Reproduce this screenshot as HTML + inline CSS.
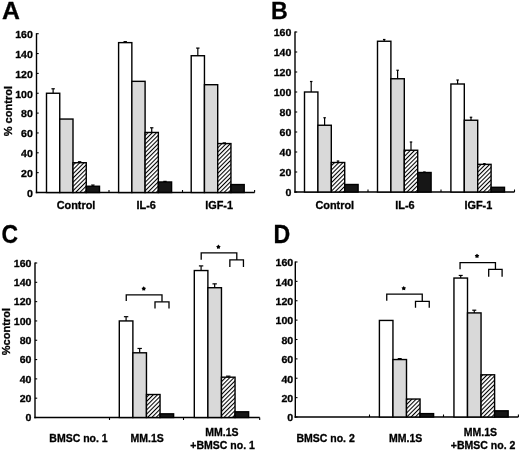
<!DOCTYPE html>
<html><head><meta charset="utf-8"><style>
html,body{margin:0;padding:0;background:#fff;}
body{width:520px;height:451px;overflow:hidden;font-family:"Liberation Sans", sans-serif;}
svg{display:block;filter:grayscale(1);}
text{stroke:#000;stroke-width:0.3px;paint-order:stroke;}
</style></head><body>
<svg width="520" height="451" viewBox="0 0 520 451">
<defs>
<pattern id="hatch" patternUnits="userSpaceOnUse" width="3" height="3" patternTransform="rotate(45)">
<rect width="3" height="3" fill="#fff"/>
<rect x="0" y="0" width="1.05" height="3" fill="#000"/>
</pattern>
</defs>
<rect width="520" height="451" fill="#fff"/>
<text x="0" y="0" transform="translate(2,19.3) scale(1,1)" font-size="24.8" font-weight="bold" font-family='"Liberation Sans", sans-serif'>A</text>
<line x1="36.5" y1="33.2" x2="36.5" y2="193.2" stroke="#000" stroke-width="1.4"/>
<line x1="36.5" y1="192.5" x2="38.7" y2="192.5" stroke="#000" stroke-width="1.1"/>
<text x="0" y="0" transform="translate(32.9,196.8) scale(1.04,1)" text-rendering="geometricPrecision" font-size="10.2" font-weight="bold" text-anchor="end" font-family='"Liberation Sans", sans-serif'>0</text>
<line x1="36.5" y1="172.65" x2="38.7" y2="172.65" stroke="#000" stroke-width="1.1"/>
<text x="0" y="0" transform="translate(32.9,176.95) scale(1.04,1)" text-rendering="geometricPrecision" font-size="10.2" font-weight="bold" text-anchor="end" font-family='"Liberation Sans", sans-serif'>20</text>
<line x1="36.5" y1="152.8" x2="38.7" y2="152.8" stroke="#000" stroke-width="1.1"/>
<text x="0" y="0" transform="translate(32.9,157.1) scale(1.04,1)" text-rendering="geometricPrecision" font-size="10.2" font-weight="bold" text-anchor="end" font-family='"Liberation Sans", sans-serif'>40</text>
<line x1="36.5" y1="132.95" x2="38.7" y2="132.95" stroke="#000" stroke-width="1.1"/>
<text x="0" y="0" transform="translate(32.9,137.25) scale(1.04,1)" text-rendering="geometricPrecision" font-size="10.2" font-weight="bold" text-anchor="end" font-family='"Liberation Sans", sans-serif'>60</text>
<line x1="36.5" y1="113.1" x2="38.7" y2="113.1" stroke="#000" stroke-width="1.1"/>
<text x="0" y="0" transform="translate(32.9,117.4) scale(1.04,1)" text-rendering="geometricPrecision" font-size="10.2" font-weight="bold" text-anchor="end" font-family='"Liberation Sans", sans-serif'>80</text>
<line x1="36.5" y1="93.25" x2="38.7" y2="93.25" stroke="#000" stroke-width="1.1"/>
<text x="0" y="0" transform="translate(32.9,97.55) scale(1.04,1)" text-rendering="geometricPrecision" font-size="10.2" font-weight="bold" text-anchor="end" font-family='"Liberation Sans", sans-serif'>100</text>
<line x1="36.5" y1="73.4" x2="38.7" y2="73.4" stroke="#000" stroke-width="1.1"/>
<text x="0" y="0" transform="translate(32.9,77.7) scale(1.04,1)" text-rendering="geometricPrecision" font-size="10.2" font-weight="bold" text-anchor="end" font-family='"Liberation Sans", sans-serif'>120</text>
<line x1="36.5" y1="53.55" x2="38.7" y2="53.55" stroke="#000" stroke-width="1.1"/>
<text x="0" y="0" transform="translate(32.9,57.85) scale(1.04,1)" text-rendering="geometricPrecision" font-size="10.2" font-weight="bold" text-anchor="end" font-family='"Liberation Sans", sans-serif'>140</text>
<line x1="36.5" y1="33.7" x2="38.7" y2="33.7" stroke="#000" stroke-width="1.1"/>
<text x="0" y="0" transform="translate(32.9,38) scale(1.04,1)" text-rendering="geometricPrecision" font-size="10.2" font-weight="bold" text-anchor="end" font-family='"Liberation Sans", sans-serif'>160</text>
<line x1="35.8" y1="192.5" x2="254.6" y2="192.5" stroke="#000" stroke-width="1.4"/>
<line x1="109" y1="192.5" x2="109" y2="190" stroke="#000" stroke-width="1.1"/>
<line x1="182.5" y1="192.5" x2="182.5" y2="190" stroke="#000" stroke-width="1.1"/>
<line x1="254.6" y1="192.5" x2="254.6" y2="190" stroke="#000" stroke-width="1.1"/>
<line x1="53.12" y1="93.25" x2="53.12" y2="88.78" stroke="#000" stroke-width="1.2"/>
<line x1="51.42" y1="88.78" x2="54.83" y2="88.78" stroke="#000" stroke-width="1.2"/>
<rect x="46.5" y="93.25" width="13.25" height="99.25" fill="#fff" stroke="#000" stroke-width="1.4"/>
<rect x="59.75" y="119.05" width="13.25" height="73.45" fill="#d9d9d9" stroke="#000" stroke-width="1.4"/>
<line x1="79.62" y1="162.72" x2="79.62" y2="161.73" stroke="#000" stroke-width="1.2"/>
<line x1="77.92" y1="161.73" x2="81.33" y2="161.73" stroke="#000" stroke-width="1.2"/>
<rect x="73" y="162.72" width="13.25" height="29.78" fill="url(#hatch)" stroke="#000" stroke-width="1.4"/>
<line x1="92.88" y1="186.25" x2="92.88" y2="185.06" stroke="#000" stroke-width="1.2"/>
<line x1="91.17" y1="185.06" x2="94.58" y2="185.06" stroke="#000" stroke-width="1.2"/>
<rect x="86.25" y="186.25" width="13.25" height="6.25" fill="#161616" stroke="#000" stroke-width="1.4"/>
<line x1="125.22" y1="42.63" x2="125.22" y2="41.64" stroke="#000" stroke-width="1.2"/>
<line x1="123.52" y1="41.64" x2="126.92" y2="41.64" stroke="#000" stroke-width="1.2"/>
<rect x="118.6" y="42.63" width="13.25" height="149.87" fill="#fff" stroke="#000" stroke-width="1.4"/>
<rect x="131.85" y="81.34" width="13.25" height="111.16" fill="#d9d9d9" stroke="#000" stroke-width="1.4"/>
<line x1="151.72" y1="132.45" x2="151.72" y2="127.79" stroke="#000" stroke-width="1.2"/>
<line x1="150.03" y1="127.79" x2="153.42" y2="127.79" stroke="#000" stroke-width="1.2"/>
<rect x="145.1" y="132.45" width="13.25" height="60.05" fill="url(#hatch)" stroke="#000" stroke-width="1.4"/>
<line x1="164.97" y1="181.98" x2="164.97" y2="181.38" stroke="#000" stroke-width="1.2"/>
<line x1="163.28" y1="181.38" x2="166.67" y2="181.38" stroke="#000" stroke-width="1.2"/>
<rect x="158.35" y="181.98" width="13.25" height="10.52" fill="#161616" stroke="#000" stroke-width="1.4"/>
<line x1="197.82" y1="55.73" x2="197.82" y2="48.09" stroke="#000" stroke-width="1.2"/>
<line x1="196.12" y1="48.09" x2="199.52" y2="48.09" stroke="#000" stroke-width="1.2"/>
<rect x="191.2" y="55.73" width="13.25" height="136.77" fill="#fff" stroke="#000" stroke-width="1.4"/>
<rect x="204.45" y="84.71" width="13.25" height="107.79" fill="#d9d9d9" stroke="#000" stroke-width="1.4"/>
<line x1="224.32" y1="143.57" x2="224.32" y2="142.88" stroke="#000" stroke-width="1.2"/>
<line x1="222.62" y1="142.88" x2="226.02" y2="142.88" stroke="#000" stroke-width="1.2"/>
<rect x="217.7" y="143.57" width="13.25" height="48.93" fill="url(#hatch)" stroke="#000" stroke-width="1.4"/>
<rect x="230.95" y="184.56" width="13.25" height="7.94" fill="#161616" stroke="#000" stroke-width="1.4"/>
<text x="76" y="208.9" font-size="10.9" font-weight="bold" text-anchor="middle" font-family='"Liberation Sans", sans-serif'>Control</text>
<text x="146.25" y="208.9" font-size="10.9" font-weight="bold" text-anchor="middle" font-family='"Liberation Sans", sans-serif'>IL-6</text>
<text x="219.1" y="208.9" font-size="10.9" font-weight="bold" text-anchor="middle" font-family='"Liberation Sans", sans-serif'>IGF-1</text>
<text x="0" y="0" transform="translate(12.4,111.15) rotate(-90)" font-size="11.05" font-weight="bold" text-anchor="middle" font-family='"Liberation Sans", sans-serif'>% control</text>
<text x="0" y="0" transform="translate(270.9,18.9) scale(0.94,1)" font-size="24.7" font-weight="bold" font-family='"Liberation Sans", sans-serif'>B</text>
<line x1="295" y1="31.5" x2="295" y2="192.7" stroke="#000" stroke-width="1.4"/>
<line x1="295" y1="192" x2="297.2" y2="192" stroke="#000" stroke-width="1.1"/>
<text x="0" y="0" transform="translate(291.4,195.9) scale(1.04,1)" text-rendering="geometricPrecision" font-size="10.2" font-weight="bold" text-anchor="end" font-family='"Liberation Sans", sans-serif'>0</text>
<line x1="295" y1="172" x2="297.2" y2="172" stroke="#000" stroke-width="1.1"/>
<text x="0" y="0" transform="translate(291.4,175.9) scale(1.04,1)" text-rendering="geometricPrecision" font-size="10.2" font-weight="bold" text-anchor="end" font-family='"Liberation Sans", sans-serif'>20</text>
<line x1="295" y1="152" x2="297.2" y2="152" stroke="#000" stroke-width="1.1"/>
<text x="0" y="0" transform="translate(291.4,155.9) scale(1.04,1)" text-rendering="geometricPrecision" font-size="10.2" font-weight="bold" text-anchor="end" font-family='"Liberation Sans", sans-serif'>40</text>
<line x1="295" y1="132" x2="297.2" y2="132" stroke="#000" stroke-width="1.1"/>
<text x="0" y="0" transform="translate(291.4,135.9) scale(1.04,1)" text-rendering="geometricPrecision" font-size="10.2" font-weight="bold" text-anchor="end" font-family='"Liberation Sans", sans-serif'>60</text>
<line x1="295" y1="112" x2="297.2" y2="112" stroke="#000" stroke-width="1.1"/>
<text x="0" y="0" transform="translate(291.4,115.9) scale(1.04,1)" text-rendering="geometricPrecision" font-size="10.2" font-weight="bold" text-anchor="end" font-family='"Liberation Sans", sans-serif'>80</text>
<line x1="295" y1="92" x2="297.2" y2="92" stroke="#000" stroke-width="1.1"/>
<text x="0" y="0" transform="translate(291.4,95.9) scale(1.04,1)" text-rendering="geometricPrecision" font-size="10.2" font-weight="bold" text-anchor="end" font-family='"Liberation Sans", sans-serif'>100</text>
<line x1="295" y1="72" x2="297.2" y2="72" stroke="#000" stroke-width="1.1"/>
<text x="0" y="0" transform="translate(291.4,75.9) scale(1.04,1)" text-rendering="geometricPrecision" font-size="10.2" font-weight="bold" text-anchor="end" font-family='"Liberation Sans", sans-serif'>120</text>
<line x1="295" y1="52" x2="297.2" y2="52" stroke="#000" stroke-width="1.1"/>
<text x="0" y="0" transform="translate(291.4,55.9) scale(1.04,1)" text-rendering="geometricPrecision" font-size="10.2" font-weight="bold" text-anchor="end" font-family='"Liberation Sans", sans-serif'>140</text>
<line x1="295" y1="32" x2="297.2" y2="32" stroke="#000" stroke-width="1.1"/>
<text x="0" y="0" transform="translate(291.4,35.9) scale(1.04,1)" text-rendering="geometricPrecision" font-size="10.2" font-weight="bold" text-anchor="end" font-family='"Liberation Sans", sans-serif'>160</text>
<line x1="294.3" y1="192" x2="514.5" y2="192" stroke="#000" stroke-width="1.4"/>
<line x1="368" y1="192" x2="368" y2="189.5" stroke="#000" stroke-width="1.1"/>
<line x1="441" y1="192" x2="441" y2="189.5" stroke="#000" stroke-width="1.1"/>
<line x1="514.5" y1="192" x2="514.5" y2="189.5" stroke="#000" stroke-width="1.1"/>
<line x1="311.2" y1="92" x2="311.2" y2="81.5" stroke="#000" stroke-width="1.2"/>
<line x1="309.95" y1="81.5" x2="312.45" y2="81.5" stroke="#000" stroke-width="1.2"/>
<rect x="304.5" y="92" width="13.4" height="100" fill="#fff" stroke="#000" stroke-width="1.4"/>
<line x1="324.6" y1="125.25" x2="324.6" y2="117.75" stroke="#000" stroke-width="1.2"/>
<line x1="323.35" y1="117.75" x2="325.85" y2="117.75" stroke="#000" stroke-width="1.2"/>
<rect x="317.9" y="125.25" width="13.4" height="66.75" fill="#d9d9d9" stroke="#000" stroke-width="1.4"/>
<line x1="338" y1="162.5" x2="338" y2="161" stroke="#000" stroke-width="1.2"/>
<line x1="336.75" y1="161" x2="339.25" y2="161" stroke="#000" stroke-width="1.2"/>
<rect x="331.3" y="162.5" width="13.4" height="29.5" fill="url(#hatch)" stroke="#000" stroke-width="1.4"/>
<rect x="344.7" y="184.5" width="13.4" height="7.5" fill="#161616" stroke="#000" stroke-width="1.4"/>
<line x1="384.2" y1="41.25" x2="384.2" y2="39.5" stroke="#000" stroke-width="1.2"/>
<line x1="382.95" y1="39.5" x2="385.45" y2="39.5" stroke="#000" stroke-width="1.2"/>
<rect x="377.5" y="41.25" width="13.4" height="150.75" fill="#fff" stroke="#000" stroke-width="1.4"/>
<line x1="397.6" y1="78.75" x2="397.6" y2="70.25" stroke="#000" stroke-width="1.2"/>
<line x1="396.35" y1="70.25" x2="398.85" y2="70.25" stroke="#000" stroke-width="1.2"/>
<rect x="390.9" y="78.75" width="13.4" height="113.25" fill="#d9d9d9" stroke="#000" stroke-width="1.4"/>
<line x1="411" y1="150.25" x2="411" y2="142" stroke="#000" stroke-width="1.2"/>
<line x1="409.75" y1="142" x2="412.25" y2="142" stroke="#000" stroke-width="1.2"/>
<rect x="404.3" y="150.25" width="13.4" height="41.75" fill="url(#hatch)" stroke="#000" stroke-width="1.4"/>
<line x1="424.4" y1="172.5" x2="424.4" y2="172" stroke="#000" stroke-width="1.2"/>
<line x1="423.15" y1="172" x2="425.65" y2="172" stroke="#000" stroke-width="1.2"/>
<rect x="417.7" y="172.5" width="13.4" height="19.5" fill="#161616" stroke="#000" stroke-width="1.4"/>
<line x1="457.6" y1="84" x2="457.6" y2="80" stroke="#000" stroke-width="1.2"/>
<line x1="456.35" y1="80" x2="458.85" y2="80" stroke="#000" stroke-width="1.2"/>
<rect x="450.9" y="84" width="13.4" height="108" fill="#fff" stroke="#000" stroke-width="1.4"/>
<line x1="471" y1="120.25" x2="471" y2="117.25" stroke="#000" stroke-width="1.2"/>
<line x1="469.75" y1="117.25" x2="472.25" y2="117.25" stroke="#000" stroke-width="1.2"/>
<rect x="464.3" y="120.25" width="13.4" height="71.75" fill="#d9d9d9" stroke="#000" stroke-width="1.4"/>
<line x1="484.4" y1="164.35" x2="484.4" y2="163.6" stroke="#000" stroke-width="1.2"/>
<line x1="483.15" y1="163.6" x2="485.65" y2="163.6" stroke="#000" stroke-width="1.2"/>
<rect x="477.7" y="164.35" width="13.4" height="27.65" fill="url(#hatch)" stroke="#000" stroke-width="1.4"/>
<rect x="491.1" y="187.3" width="13.4" height="4.7" fill="#161616" stroke="#000" stroke-width="1.4"/>
<text x="334.75" y="208.9" font-size="10.9" font-weight="bold" text-anchor="middle" font-family='"Liberation Sans", sans-serif'>Control</text>
<text x="405" y="208.9" font-size="10.9" font-weight="bold" text-anchor="middle" font-family='"Liberation Sans", sans-serif'>IL-6</text>
<text x="478.4" y="208.9" font-size="10.9" font-weight="bold" text-anchor="middle" font-family='"Liberation Sans", sans-serif'>IGF-1</text>
<text x="0" y="0" transform="translate(1.6,242.5) scale(0.91,1)" font-size="25.2" font-weight="bold" font-family='"Liberation Sans", sans-serif'>C</text>
<line x1="35" y1="262.5" x2="35" y2="418.2" stroke="#000" stroke-width="1.4"/>
<line x1="35" y1="417.5" x2="37.2" y2="417.5" stroke="#000" stroke-width="1.1"/>
<text x="0" y="0" transform="translate(31.5,421.3) scale(1.04,1)" text-rendering="geometricPrecision" font-size="10.2" font-weight="bold" text-anchor="end" font-family='"Liberation Sans", sans-serif'>0</text>
<line x1="35" y1="398.19" x2="37.2" y2="398.19" stroke="#000" stroke-width="1.1"/>
<text x="0" y="0" transform="translate(31.5,401.99) scale(1.04,1)" text-rendering="geometricPrecision" font-size="10.2" font-weight="bold" text-anchor="end" font-family='"Liberation Sans", sans-serif'>20</text>
<line x1="35" y1="378.88" x2="37.2" y2="378.88" stroke="#000" stroke-width="1.1"/>
<text x="0" y="0" transform="translate(31.5,382.68) scale(1.04,1)" text-rendering="geometricPrecision" font-size="10.2" font-weight="bold" text-anchor="end" font-family='"Liberation Sans", sans-serif'>40</text>
<line x1="35" y1="359.56" x2="37.2" y2="359.56" stroke="#000" stroke-width="1.1"/>
<text x="0" y="0" transform="translate(31.5,363.36) scale(1.04,1)" text-rendering="geometricPrecision" font-size="10.2" font-weight="bold" text-anchor="end" font-family='"Liberation Sans", sans-serif'>60</text>
<line x1="35" y1="340.25" x2="37.2" y2="340.25" stroke="#000" stroke-width="1.1"/>
<text x="0" y="0" transform="translate(31.5,344.05) scale(1.04,1)" text-rendering="geometricPrecision" font-size="10.2" font-weight="bold" text-anchor="end" font-family='"Liberation Sans", sans-serif'>80</text>
<line x1="35" y1="320.94" x2="37.2" y2="320.94" stroke="#000" stroke-width="1.1"/>
<text x="0" y="0" transform="translate(31.5,324.74) scale(1.04,1)" text-rendering="geometricPrecision" font-size="10.2" font-weight="bold" text-anchor="end" font-family='"Liberation Sans", sans-serif'>100</text>
<line x1="35" y1="301.63" x2="37.2" y2="301.63" stroke="#000" stroke-width="1.1"/>
<text x="0" y="0" transform="translate(31.5,305.43) scale(1.04,1)" text-rendering="geometricPrecision" font-size="10.2" font-weight="bold" text-anchor="end" font-family='"Liberation Sans", sans-serif'>120</text>
<line x1="35" y1="282.32" x2="37.2" y2="282.32" stroke="#000" stroke-width="1.1"/>
<text x="0" y="0" transform="translate(31.5,286.12) scale(1.04,1)" text-rendering="geometricPrecision" font-size="10.2" font-weight="bold" text-anchor="end" font-family='"Liberation Sans", sans-serif'>140</text>
<line x1="35" y1="263" x2="37.2" y2="263" stroke="#000" stroke-width="1.1"/>
<text x="0" y="0" transform="translate(31.5,266.8) scale(1.04,1)" text-rendering="geometricPrecision" font-size="10.2" font-weight="bold" text-anchor="end" font-family='"Liberation Sans", sans-serif'>160</text>
<line x1="34.3" y1="417.5" x2="259.7" y2="417.5" stroke="#000" stroke-width="1.4"/>
<line x1="109.5" y1="417.5" x2="109.5" y2="420" stroke="#000" stroke-width="1.1"/>
<line x1="183.5" y1="417.5" x2="183.5" y2="420" stroke="#000" stroke-width="1.1"/>
<line x1="259.7" y1="417.5" x2="259.7" y2="420" stroke="#000" stroke-width="1.1"/>
<line x1="126.09" y1="320.94" x2="126.09" y2="316.69" stroke="#000" stroke-width="1.2"/>
<line x1="123.89" y1="316.69" x2="128.29" y2="316.69" stroke="#000" stroke-width="1.2"/>
<rect x="119.3" y="320.94" width="13.58" height="96.56" fill="#fff" stroke="#000" stroke-width="1.4"/>
<line x1="139.67" y1="352.8" x2="139.67" y2="348.46" stroke="#000" stroke-width="1.2"/>
<line x1="137.47" y1="348.46" x2="141.87" y2="348.46" stroke="#000" stroke-width="1.2"/>
<rect x="132.88" y="352.8" width="13.58" height="64.7" fill="#d9d9d9" stroke="#000" stroke-width="1.4"/>
<rect x="146.46" y="394.52" width="13.58" height="22.98" fill="url(#hatch)" stroke="#000" stroke-width="1.4"/>
<rect x="160.04" y="413.83" width="13.58" height="3.67" fill="#161616" stroke="#000" stroke-width="1.4"/>
<line x1="201.09" y1="270.54" x2="201.09" y2="265.9" stroke="#000" stroke-width="1.2"/>
<line x1="198.89" y1="265.9" x2="203.29" y2="265.9" stroke="#000" stroke-width="1.2"/>
<rect x="194.3" y="270.54" width="13.58" height="146.96" fill="#fff" stroke="#000" stroke-width="1.4"/>
<line x1="214.67" y1="287.72" x2="214.67" y2="283.86" stroke="#000" stroke-width="1.2"/>
<line x1="212.47" y1="283.86" x2="216.87" y2="283.86" stroke="#000" stroke-width="1.2"/>
<rect x="207.88" y="287.72" width="13.58" height="129.78" fill="#d9d9d9" stroke="#000" stroke-width="1.4"/>
<line x1="228.25" y1="377.19" x2="228.25" y2="376.17" stroke="#000" stroke-width="1.2"/>
<line x1="226.05" y1="376.17" x2="230.45" y2="376.17" stroke="#000" stroke-width="1.2"/>
<rect x="221.46" y="377.19" width="13.58" height="40.31" fill="url(#hatch)" stroke="#000" stroke-width="1.4"/>
<rect x="235.04" y="411.8" width="13.58" height="5.7" fill="#161616" stroke="#000" stroke-width="1.4"/>
<text x="78.5" y="441.8" font-size="10.5" font-weight="bold" text-anchor="middle" font-family='"Liberation Sans", sans-serif'>BMSC no. 1</text>
<text x="147.25" y="441.8" font-size="10.5" font-weight="bold" text-anchor="middle" font-family='"Liberation Sans", sans-serif'>MM.1S</text>
<text x="222" y="436.4" font-size="10.5" font-weight="bold" text-anchor="middle" font-family='"Liberation Sans", sans-serif'>MM.1S</text>
<text x="222.6" y="449.4" font-size="10.5" font-weight="bold" text-anchor="middle" font-family='"Liberation Sans", sans-serif'>+BMSC no. 1</text>
<text x="0" y="0" transform="translate(10.3,331.6) rotate(-90)" font-size="11.05" font-weight="bold" text-anchor="middle" font-family='"Liberation Sans", sans-serif'>%control</text>
<polyline points="126.25,301.1 126.25,294.9 162,294.9 162,301.85" fill="none" stroke="#000" stroke-width="1.3"/>
<polyline points="155,308.4 155,301.85 169,301.85 169,308.4" fill="none" stroke="#000" stroke-width="1.3"/>
<polygon points="143.75,286.25 144.63,287.44 146.03,287.91 145.18,289.11 145.16,290.59 143.75,290.15 142.34,290.59 142.32,289.11 141.47,287.91 142.87,287.44" fill="#000"/>
<polyline points="201.2,259.75 201.2,252.95 236.8,252.95 236.8,259.95" fill="none" stroke="#000" stroke-width="1.3"/>
<polyline points="229.85,266.9 229.85,259.95 243.45,259.95 243.45,266.9" fill="none" stroke="#000" stroke-width="1.3"/>
<polygon points="218.4,244.5 219.28,245.69 220.68,246.16 219.83,247.36 219.81,248.84 218.4,248.4 216.99,248.84 216.97,247.36 216.12,246.16 217.52,245.69" fill="#000"/>
<text x="0" y="0" transform="translate(273.6,242.6) scale(0.92,1)" font-size="25.2" font-weight="bold" font-family='"Liberation Sans", sans-serif'>D</text>
<line x1="295.3" y1="261.49" x2="295.3" y2="417.7" stroke="#000" stroke-width="1.4"/>
<line x1="295.3" y1="417" x2="297.5" y2="417" stroke="#000" stroke-width="1.1"/>
<text x="0" y="0" transform="translate(293.2,421.3) scale(1.04,1)" text-rendering="geometricPrecision" font-size="10.2" font-weight="bold" text-anchor="end" font-family='"Liberation Sans", sans-serif'>0</text>
<line x1="295.3" y1="397.62" x2="297.5" y2="397.62" stroke="#000" stroke-width="1.1"/>
<text x="0" y="0" transform="translate(293.2,401.92) scale(1.04,1)" text-rendering="geometricPrecision" font-size="10.2" font-weight="bold" text-anchor="end" font-family='"Liberation Sans", sans-serif'>20</text>
<line x1="295.3" y1="378.25" x2="297.5" y2="378.25" stroke="#000" stroke-width="1.1"/>
<text x="0" y="0" transform="translate(293.2,382.55) scale(1.04,1)" text-rendering="geometricPrecision" font-size="10.2" font-weight="bold" text-anchor="end" font-family='"Liberation Sans", sans-serif'>40</text>
<line x1="295.3" y1="358.87" x2="297.5" y2="358.87" stroke="#000" stroke-width="1.1"/>
<text x="0" y="0" transform="translate(293.2,363.17) scale(1.04,1)" text-rendering="geometricPrecision" font-size="10.2" font-weight="bold" text-anchor="end" font-family='"Liberation Sans", sans-serif'>60</text>
<line x1="295.3" y1="339.5" x2="297.5" y2="339.5" stroke="#000" stroke-width="1.1"/>
<text x="0" y="0" transform="translate(293.2,343.8) scale(1.04,1)" text-rendering="geometricPrecision" font-size="10.2" font-weight="bold" text-anchor="end" font-family='"Liberation Sans", sans-serif'>80</text>
<line x1="295.3" y1="320.12" x2="297.5" y2="320.12" stroke="#000" stroke-width="1.1"/>
<text x="0" y="0" transform="translate(293.2,324.42) scale(1.04,1)" text-rendering="geometricPrecision" font-size="10.2" font-weight="bold" text-anchor="end" font-family='"Liberation Sans", sans-serif'>100</text>
<line x1="295.3" y1="300.74" x2="297.5" y2="300.74" stroke="#000" stroke-width="1.1"/>
<text x="0" y="0" transform="translate(293.2,305.04) scale(1.04,1)" text-rendering="geometricPrecision" font-size="10.2" font-weight="bold" text-anchor="end" font-family='"Liberation Sans", sans-serif'>120</text>
<line x1="295.3" y1="281.37" x2="297.5" y2="281.37" stroke="#000" stroke-width="1.1"/>
<text x="0" y="0" transform="translate(293.2,285.67) scale(1.04,1)" text-rendering="geometricPrecision" font-size="10.2" font-weight="bold" text-anchor="end" font-family='"Liberation Sans", sans-serif'>140</text>
<line x1="295.3" y1="261.99" x2="297.5" y2="261.99" stroke="#000" stroke-width="1.1"/>
<text x="0" y="0" transform="translate(293.2,266.29) scale(1.04,1)" text-rendering="geometricPrecision" font-size="10.2" font-weight="bold" text-anchor="end" font-family='"Liberation Sans", sans-serif'>160</text>
<line x1="294.6" y1="417" x2="518.4" y2="417" stroke="#000" stroke-width="1.4"/>
<line x1="369.5" y1="417" x2="369.5" y2="414.5" stroke="#000" stroke-width="1.1"/>
<line x1="443.5" y1="417" x2="443.5" y2="414.5" stroke="#000" stroke-width="1.1"/>
<line x1="518.4" y1="417" x2="518.4" y2="414.5" stroke="#000" stroke-width="1.1"/>
<rect x="379.4" y="320.44" width="13.55" height="96.56" fill="#fff" stroke="#000" stroke-width="1.4"/>
<line x1="399.72" y1="359.55" x2="399.72" y2="358.58" stroke="#000" stroke-width="1.2"/>
<line x1="397.72" y1="358.58" x2="401.72" y2="358.58" stroke="#000" stroke-width="1.2"/>
<rect x="392.95" y="359.55" width="13.55" height="57.45" fill="#d9d9d9" stroke="#000" stroke-width="1.4"/>
<rect x="406.5" y="399.04" width="13.55" height="17.96" fill="url(#hatch)" stroke="#000" stroke-width="1.4"/>
<rect x="420.05" y="413.62" width="13.55" height="3.38" fill="#161616" stroke="#000" stroke-width="1.4"/>
<line x1="460.72" y1="278.05" x2="460.72" y2="275.44" stroke="#000" stroke-width="1.2"/>
<line x1="458.72" y1="275.44" x2="462.72" y2="275.44" stroke="#000" stroke-width="1.2"/>
<rect x="453.95" y="278.05" width="13.55" height="138.95" fill="#fff" stroke="#000" stroke-width="1.4"/>
<line x1="474.27" y1="312.91" x2="474.27" y2="310.2" stroke="#000" stroke-width="1.2"/>
<line x1="472.27" y1="310.2" x2="476.27" y2="310.2" stroke="#000" stroke-width="1.2"/>
<rect x="467.5" y="312.91" width="13.55" height="104.09" fill="#d9d9d9" stroke="#000" stroke-width="1.4"/>
<rect x="481.05" y="374.8" width="13.55" height="42.2" fill="url(#hatch)" stroke="#000" stroke-width="1.4"/>
<rect x="494.6" y="410.82" width="13.55" height="6.18" fill="#161616" stroke="#000" stroke-width="1.4"/>
<text x="325.6" y="441.8" font-size="10.5" font-weight="bold" text-anchor="middle" font-family='"Liberation Sans", sans-serif'>BMSC no. 2</text>
<text x="405.75" y="441.8" font-size="10.5" font-weight="bold" text-anchor="middle" font-family='"Liberation Sans", sans-serif'>MM.1S</text>
<text x="480.5" y="436.4" font-size="10.5" font-weight="bold" text-anchor="middle" font-family='"Liberation Sans", sans-serif'>MM.1S</text>
<text x="483.1" y="449.4" font-size="10.5" font-weight="bold" text-anchor="middle" font-family='"Liberation Sans", sans-serif'>+BMSC no. 2</text>
<polyline points="386.75,300.85 386.75,294.2 422.25,294.2 422.25,301.35" fill="none" stroke="#000" stroke-width="1.3"/>
<polyline points="415.5,307.75 415.5,301.35 429.25,301.35 429.25,307.75" fill="none" stroke="#000" stroke-width="1.3"/>
<polygon points="403.75,285.95 404.63,287.14 406.03,287.61 405.18,288.81 405.16,290.29 403.75,289.85 402.34,290.29 402.32,288.81 401.47,287.61 402.87,287.14" fill="#000"/>
<polyline points="460.05,269.15 460.05,262.65 495.45,262.65 495.45,269.3" fill="none" stroke="#000" stroke-width="1.3"/>
<polyline points="488.7,276.65 488.7,269.3 502.1,269.3 502.1,276.65" fill="none" stroke="#000" stroke-width="1.3"/>
<polygon points="477,253.65 477.88,254.84 479.28,255.31 478.43,256.51 478.41,257.99 477,257.55 475.59,257.99 475.57,256.51 474.72,255.31 476.12,254.84" fill="#000"/>
</svg>
</body></html>
